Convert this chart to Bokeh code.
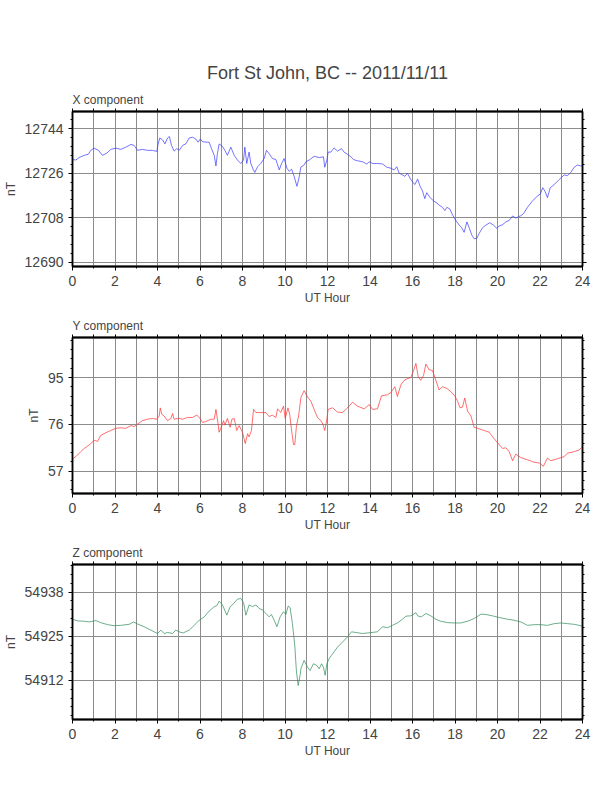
from bokeh.plotting import figure
from bokeh.models import SingleIntervalTicker, LinearAxis, Title, Range1d, CustomJSTickFormatter
from bokeh.layouts import column
from bokeh.embed import file_html
from bokeh.resources import INLINE

TITLE = "Fort St John, BC -- 2011/11/11"

x_hours = [0, 0.16, 0.31, 0.55, 0.74, 0.86, 1.02, 1.22, 1.41, 1.62, 1.80, 2.04, 2.27, 2.51, 2.75, 2.90,
           3.06, 3.29, 3.53, 3.76, 3.97, 4.03, 4.11, 4.24, 4.35, 4.47, 4.56, 4.66, 4.78, 4.91, 5.02, 5.18,
           5.33, 5.49, 5.65, 5.80, 5.91, 6.01, 6.12, 6.35, 6.43, 6.54, 6.67, 6.75, 6.82, 6.90, 7.06, 7.17,
           7.29, 7.45, 7.61, 7.76, 7.92, 8.05, 8.11, 8.20, 8.31, 8.39, 8.50, 8.58, 8.71, 8.86, 9.02, 9.13,
           9.25, 9.41, 9.57, 9.73, 9.84, 9.96, 10.09, 10.20, 10.31, 10.43, 10.56, 10.64, 10.75, 10.90, 10.98,
           11.14, 11.37, 11.61, 11.81, 11.87, 11.97, 12.03, 12.16, 12.31, 12.47, 12.66, 12.78, 12.94, 13.10,
           13.22, 13.41, 13.65, 13.85, 13.96, 14.12, 14.35, 14.59, 14.79, 14.98, 15.14, 15.26, 15.37, 15.53,
           15.64, 15.76, 15.92, 16.11, 16.24, 16.36, 16.47, 16.58, 16.67, 16.83, 16.99, 17.15, 17.25, 17.41,
           17.52, 17.62, 17.76, 17.88, 18.04, 18.20, 18.32, 18.43, 18.56, 18.68, 18.79, 18.90, 19.03, 19.14,
           19.29, 19.45, 19.64, 19.81, 19.97, 20.08, 20.24, 20.39, 20.55, 20.71, 20.86, 21.07, 21.22, 21.41,
           21.65, 21.88, 22.01, 22.13, 22.23, 22.35, 22.48, 22.67, 22.90, 23.14, 23.29, 23.45, 23.61, 23.76,
           23.92, 24.0]
x_values = [12731.5, 12731.3, 12732.3, 12733.2, 12733.6, 12735.2, 12736.1, 12735.2, 12733.2, 12734.1,
            12735.6, 12736.1, 12735.6, 12736.5, 12737.6, 12737.2, 12735.2, 12735.6, 12735.2, 12735.2,
            12734.8, 12737.8, 12740.2, 12739.4, 12737.8, 12740.2, 12740.8, 12737.2, 12734.9, 12735.9,
            12735.2, 12737.2, 12737.8, 12740.2, 12740.5, 12739.8, 12738.5, 12739.8, 12738.7, 12738.5,
            12738.5, 12735.9, 12733.2, 12728.9, 12733.9, 12737.8, 12736.8, 12735.2, 12733.2, 12736.5,
            12733.2, 12731.3, 12729.9, 12731.3, 12736.5, 12729.9, 12734.5, 12729.9, 12727.6, 12726.3,
            12728.6, 12729.9, 12731.9, 12735.2, 12733.9, 12731.9, 12731.5, 12727.3, 12729.9, 12731.9,
            12728.0, 12726.7, 12727.6, 12724.7, 12720.7, 12723.3, 12728.5, 12729.3, 12730.6, 12731.3,
            12732.8, 12732.3, 12732.6, 12728.4, 12731.3, 12734.5, 12734.5, 12736.2, 12734.9, 12735.9,
            12734.5, 12733.6, 12732.6, 12731.5, 12731.0, 12730.6, 12729.7, 12730.6, 12729.9, 12729.9,
            12729.7, 12728.4, 12728.0, 12727.3, 12728.6, 12726.0, 12725.3, 12724.7, 12726.0, 12723.4,
            12721.4, 12723.6, 12720.7, 12718.8, 12715.7, 12718.1, 12716.1, 12714.8, 12713.9, 12713.1,
            12712.2, 12710.9, 12712.2, 12711.5, 12709.2, 12706.9, 12705.0, 12703.9, 12702.1, 12706.3,
            12703.7, 12701.0, 12699.5, 12699.7, 12701.7, 12703.9, 12705.0, 12706.0, 12705.0, 12703.7,
            12704.7, 12705.2, 12706.3, 12706.9, 12708.7, 12707.9, 12708.7, 12709.6, 12712.2, 12714.8,
            12716.8, 12717.5, 12720.1, 12718.8, 12716.1, 12720.1, 12721.4, 12723.4, 12725.3, 12725.0,
            12726.3, 12728.4, 12729.3, 12728.9, 12729.2]

y_hours = [0, 0.16, 0.39, 0.55, 0.78, 1.02, 1.18, 1.33, 1.57, 1.80, 2.04, 2.27, 2.51, 2.75, 2.90, 3.06,
           3.29, 3.53, 3.76, 3.97, 4.08, 4.13, 4.20, 4.31, 4.47, 4.63, 4.71, 4.78, 5.02, 5.18, 5.41, 5.65,
           5.85, 5.99, 6.12, 6.27, 6.51, 6.67, 6.75, 6.82, 6.90, 6.98, 7.11, 7.17, 7.29, 7.42, 7.50, 7.61,
           7.73, 7.84, 8.00, 8.13, 8.24, 8.31, 8.42, 8.52, 8.63, 8.86, 9.10, 9.25, 9.41, 9.57, 9.65, 9.80,
           9.93, 10.01, 10.14, 10.22, 10.33, 10.40, 10.46, 10.54, 10.64, 10.75, 10.90, 11.06, 11.22, 11.37,
           11.53, 11.69, 11.78, 11.87, 11.97, 12.03, 12.24, 12.47, 12.71, 12.94, 13.18, 13.41, 13.73, 13.96,
           14.12, 14.35, 14.54, 14.82, 14.98, 15.17, 15.29, 15.45, 15.61, 15.76, 15.92, 16.05, 16.16, 16.27,
           16.39, 16.52, 16.63, 16.78, 16.94, 17.10, 17.25, 17.41, 17.62, 17.80, 17.99, 18.12, 18.24, 18.35,
           18.46, 18.59, 18.75, 18.90, 19.14, 19.37, 19.61, 19.84, 20.08, 20.24, 20.39, 20.55, 20.71, 20.86,
           21.10, 21.41, 21.73, 21.96, 22.16, 22.35, 22.51, 22.82, 23.14, 23.29, 23.61, 23.84, 24.0]
y_values = [62.0, 62.9, 64.9, 66.2, 67.6, 69.5, 69.1, 71.5, 72.6, 73.5, 74.4, 74.6, 74.4, 75.5, 75.1, 76.1,
            77.5, 78.1, 78.4, 78.1, 79.4, 82.7, 80.1, 79.4, 77.5, 78.4, 80.4, 78.1, 78.4, 78.1, 78.8, 78.8,
            79.8, 78.5, 76.8, 77.1, 78.1, 78.1, 82.1, 78.1, 72.8, 74.4, 77.5, 75.7, 78.4, 74.8, 78.1, 78.4,
            73.5, 75.5, 72.8, 68.2, 72.2, 70.9, 73.5, 82.1, 80.8, 80.8, 80.8, 79.2, 79.7, 78.8, 82.3, 80.8,
            83.4, 78.4, 82.7, 80.1, 72.2, 67.8, 67.8, 75.5, 79.4, 87.0, 89.7, 87.1, 85.4, 82.1,
            78.8, 77.5, 76.1, 73.5, 78.1, 82.1, 82.7, 81.0, 80.8, 82.7, 85.0, 83.4, 82.3, 84.0,
            82.1, 82.3, 87.6, 88.0, 88.9, 91.3, 87.3, 92.0, 93.9, 94.6, 95.0, 97.9, 100.8, 95.3,
            93.9, 95.9, 100.5, 98.2, 97.9, 93.9, 90.0, 91.3, 90.6, 89.3, 87.6, 85.4, 82.7, 83.0,
            86.7, 81.4, 79.4, 74.8, 74.2, 73.5, 72.8, 70.2, 67.8, 66.2, 66.5, 64.9, 61.2, 63.9,
            62.5, 61.6, 60.6, 60.3, 59.0, 62.3, 61.2, 62.0, 62.9, 64.3, 64.9, 65.6, 66.9]

z_hours = [0, 0.24, 0.55, 0.78, 1.10, 1.33, 1.65, 1.96, 2.27, 2.67, 2.87, 3.06, 3.37, 3.69, 4.00, 4.16,
           4.31, 4.47, 4.71, 4.86, 5.10, 5.22, 5.49, 5.73, 5.96, 6.20, 6.43, 6.67, 6.79, 6.90, 7.06, 7.26,
           7.42, 7.58, 7.76, 7.92, 8.05, 8.16, 8.31, 8.47, 8.63, 8.78, 8.94, 9.10, 9.25, 9.36, 9.49, 9.62,
           9.77, 9.93, 10.04, 10.15, 10.24, 10.35, 10.46, 10.54, 10.62, 10.71, 10.75, 10.90, 11.06, 11.18,
           11.34, 11.50, 11.61, 11.72, 11.81, 11.89, 11.97, 12.08, 12.19, 12.31, 12.47, 12.71, 12.94, 13.13,
           13.33, 13.65, 13.96, 14.35, 14.59, 14.82, 15.06, 15.29, 15.53, 15.69, 15.92, 16.16, 16.27, 16.42,
           16.63, 16.86, 17.10, 17.33, 17.65, 17.96, 18.27, 18.59, 18.90, 19.22, 19.45, 19.76, 20.08, 20.47,
           20.78, 21.10, 21.41, 21.73, 22.04, 22.35, 22.67, 22.98, 23.29, 23.61, 23.84, 24.0]
z_values = [54930.0, 54929.5, 54929.4, 54929.2, 54929.6, 54929.0, 54928.4, 54928.1, 54928.2, 54928.5,
            54929.2, 54928.6, 54927.8, 54926.8, 54925.8, 54926.8, 54925.8, 54926.1, 54925.8, 54926.8,
            54926.1, 54926.0, 54926.8, 54928.2, 54929.7, 54930.7, 54932.4, 54933.7, 54934.0, 54935.3,
            54934.2, 54931.2, 54933.7, 54934.6, 54935.9, 54936.1, 54934.9, 54931.2, 54934.2, 54933.7,
            54934.2, 54933.2, 54932.7, 54931.7, 54930.7, 54931.4, 54929.7, 54927.8, 54930.7, 54932.2,
            54931.4, 54933.9, 54933.4, 54928.7, 54922.3, 54914.5, 54910.5, 54913.5, 54915.5, 54917.9,
            54915.9, 54914.9, 54916.9, 54916.4, 54915.4, 54916.9, 54915.9, 54913.5, 54916.9, 54918.4,
            54919.4, 54920.4, 54921.8, 54923.3, 54924.8, 54926.3, 54926.1, 54925.8, 54926.0, 54926.3,
            54927.8, 54927.5, 54928.2, 54928.9, 54930.0, 54930.9, 54931.0, 54931.9, 54930.9, 54930.7,
            54931.7, 54931.0, 54930.0, 54929.4, 54929.0, 54928.9, 54928.9, 54929.4, 54930.2, 54931.5,
            54931.4, 54931.0, 54930.5, 54930.0, 54929.7, 54929.2, 54928.2, 54928.4, 54928.4, 54928.2,
            54928.7, 54928.9, 54928.7, 54928.5, 54928.2, 54927.9]

FONT = "Liberation Sans"


def blank():
    return CustomJSTickFormatter(code="return ''")


def panel(hours, vals, color, comp, yr, yint, top, frame_h, bottom, main_title=None):
    p = figure(width=604, height=top + frame_h + bottom, x_range=Range1d(0, 24), y_range=Range1d(*yr),
               output_backend="svg", toolbar_location=None,
               min_border_left=64, min_border_right=22, min_border_top=top, min_border_bottom=bottom)
    p.outline_line_color = "black"
    p.outline_line_width = 1.5
    p.background_fill_color = "white"
    p.border_fill_color = "white"

    # bottom axis
    xa = p.below[0]
    xa.ticker = SingleIntervalTicker(interval=2, num_minor_ticks=2)
    xa.axis_label = "UT Hour"
    xa.axis_label_text_font = FONT
    xa.axis_label_text_font_size = "12px"
    xa.axis_label_text_font_style = "normal"
    xa.axis_label_standoff = 2
    xa.major_label_text_font = FONT
    xa.major_label_text_font_size = "14px"
    xa.major_label_standoff = 5
    xa.axis_line_width = 2
    xa.major_tick_in = 0
    xa.major_tick_out = 4
    xa.minor_tick_in = 0
    xa.minor_tick_out = 2

    # left axis
    ya = p.left[0]
    ya.ticker = SingleIntervalTicker(interval=yint, num_minor_ticks=5)
    ya.axis_label = "nT"
    ya.axis_label_text_font = FONT
    ya.axis_label_text_font_size = "12px"
    ya.axis_label_text_font_style = "normal"
    ya.axis_label_standoff = 4
    ya.major_label_text_font = FONT
    ya.major_label_text_font_size = "14px"
    ya.major_label_standoff = 5
    ya.axis_line_width = 1.5
    ya.major_tick_in = 0
    ya.major_tick_out = 4
    ya.minor_tick_in = 0
    ya.minor_tick_out = 2

    # grids
    p.xgrid.ticker = SingleIntervalTicker(interval=1, num_minor_ticks=0)
    p.ygrid.ticker = SingleIntervalTicker(interval=yint, num_minor_ticks=5)
    for g in (p.xgrid[0], p.ygrid[0]):
        g.grid_line_color = "#8c8c8c"
        g.grid_line_width = 1

    # right axis (ticks only)
    ra = LinearAxis(ticker=SingleIntervalTicker(interval=yint, num_minor_ticks=5),
                    formatter=blank(), major_label_standoff=0,
                    axis_line_width=1.5, major_tick_in=0, major_tick_out=4,
                    minor_tick_in=0, minor_tick_out=2)
    p.add_layout(ra, "right")

    # top axis (ticks only, every hour)
    ta = LinearAxis(ticker=SingleIntervalTicker(interval=1, num_minor_ticks=0),
                    formatter=blank(), major_label_standoff=0,
                    axis_line_width=2, major_tick_in=0, major_tick_out=3,
                    minor_tick_in=0, minor_tick_out=0)
    p.add_layout(ta, "above")

    # titles
    if main_title:
        p.title.text = main_title
        p.title.align = "center"
        p.title.text_font = FONT
        p.title.text_font_size = "18px"
        p.title.text_font_style = "normal"
        p.title.standoff = 14
        p.add_layout(Title(text=comp, align="left", text_font=FONT, text_font_size="12px",
                           text_font_style="normal", standoff=3), "above")
    else:
        p.title.text = comp
        p.title.align = "left"
        p.title.text_font = FONT
        p.title.text_font_size = "12px"
        p.title.text_font_style = "normal"
        p.title.standoff = 3

    p.line(hours, vals, line_color=color, line_width=0.7)
    return p


p1 = panel(x_hours, x_values, "#3a3aff", "X component", (12688.3, 12750.9), 18, 111, 155, 45, TITLE)
p2 = panel(y_hours, y_values, "#ff3030", "Y component", (47.9, 111.3), 19, 26, 156, 45)
p3 = panel(z_hours, z_values, "#2e8b57", "Z component", (54900.5, 54946.1), 13, 26, 155, 45)

layout = column(p1, p2, p3, spacing=0)
open("out.html", "w").write(file_html(layout, INLINE))
